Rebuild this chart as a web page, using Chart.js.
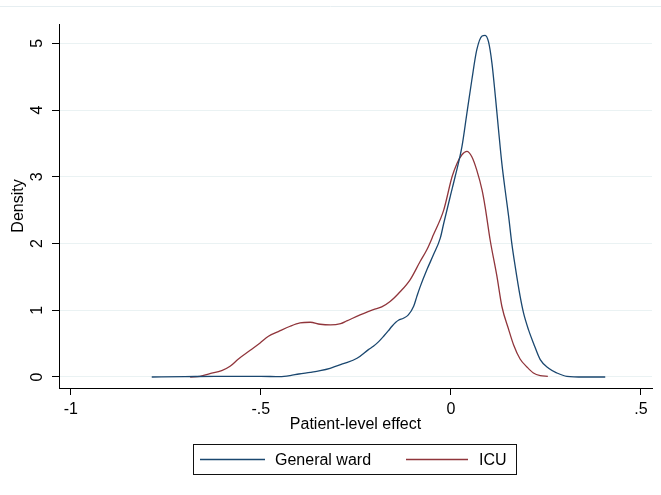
<!DOCTYPE html>
<html>
<head>
<meta charset="utf-8">
<script src="https://cdn.jsdelivr.net/npm/chart.js@4/dist/chart.umd.min.js"></script>
<style>
  body { margin: 0; background: #fff; }
  canvas { display: block; }
</style>
</head>
<body>
<canvas id="densityChart" width="661" height="495"></canvas>
<script>
// kernel density estimates, read at x = patient-level effect
const wardX = [-0.787, -0.70, -0.62, -0.55, -0.50, -0.45, -0.423, -0.40, -0.37, -0.344, -0.318, -0.283, -0.247, -0.217, -0.204, -0.19, -0.177, -0.165, -0.155, -0.145, -0.138, -0.125, -0.112, -0.098, -0.09, -0.081, -0.063, -0.046, -0.028, -0.019, -0.002, 0.011, 0.029, 0.042, 0.055, 0.068, 0.082, 0.09, 0.099, 0.108, 0.117, 0.125, 0.134, 0.145, 0.152, 0.160, 0.169, 0.182, 0.191, 0.204, 0.217, 0.235, 0.257, 0.279, 0.305, 0.35, 0.406];
const wardDensity = [0, 0.005, 0.01, 0.01, 0.01, 0.005, 0.02, 0.045, 0.07, 0.095, 0.13, 0.20, 0.28, 0.41, 0.46, 0.53, 0.61, 0.69, 0.76, 0.82, 0.85, 0.88, 0.93, 1.06, 1.20, 1.35, 1.61, 1.83, 2.08, 2.30, 2.70, 3.00, 3.45, 3.95, 4.45, 4.90, 5.11, 5.12, 5.02, 4.70, 4.20, 3.72, 3.20, 2.70, 2.40, 2.01, 1.66, 1.21, 0.96, 0.71, 0.51, 0.26, 0.13, 0.06, 0.01, 0, 0];

const icuX = [-0.686, -0.66, -0.634, -0.603, -0.581, -0.559, -0.528, -0.502, -0.48, -0.454, -0.423, -0.397, -0.37, -0.344, -0.317, -0.29, -0.274, -0.239, -0.204, -0.182, -0.16, -0.133, -0.107, -0.081, -0.063, -0.046, -0.019, 0.003, 0.016, 0.029, 0.042, 0.055, 0.068, 0.082, 0.09, 0.103, 0.121, 0.134, 0.152, 0.165, 0.182, 0.2, 0.217, 0.235, 0.255];
const icuDensity = [0, 0.01, 0.05, 0.095, 0.16, 0.27, 0.40, 0.51, 0.61, 0.68, 0.76, 0.81, 0.82, 0.79, 0.78, 0.80, 0.84, 0.93, 1.01, 1.05, 1.13, 1.28, 1.46, 1.73, 1.91, 2.13, 2.50, 3.00, 3.20, 3.33, 3.38, 3.30, 3.10, 2.80, 2.55, 2.06, 1.51, 1.06, 0.71, 0.48, 0.27, 0.15, 0.06, 0.02, 0.01];

const xTicks = [-1, -0.5, 0, 0.5];
const yTicks = [0, 1, 2, 3, 4, 5];
const seriesNames = ['General ward', 'ICU'];
const seriesColors = ['#1a476f', '#90353b'];

const toPoints = (xs, ys) => xs.map((x, i) => ({ x: x, y: ys[i] }));

// stata style number labels: -.5 / .5
const fmt = v => {
  if (v === 0) return '0';
  let s = String(v);
  return s.replace(/^(-?)0\./, '$1.');
};

Chart.defaults.font.family = "'Liberation Sans', Arial, sans-serif";
Chart.defaults.font.size = 16;
Chart.defaults.color = '#000';

// legend box under the plot, drawn straight on the canvas
const boxLegend = {
  id: 'boxLegend',
  beforeDraw(chart) {
    const ctx = chart.ctx;
    ctx.save();
    ctx.strokeStyle = '#e6eef1';
    ctx.lineWidth = 1;
    ctx.beginPath();
    ctx.moveTo(0, 6.5);
    ctx.lineTo(chart.width, 6.5);
    ctx.stroke();
    ctx.restore();
  },
  afterDraw(chart) {
    const ctx = chart.ctx;
    const left = 193.5, top = 444.5, w = 323, h = 30;
    ctx.save();
    ctx.strokeStyle = '#111';
    ctx.lineWidth = 1;
    ctx.strokeRect(left, top, w, h);
    const cy = top + h / 2;
    const entries = [
      { x0: 200, x1: 265, tx: 275 },
      { x0: 406, x1: 468, tx: 479 }
    ];
    ctx.font = "16px 'Liberation Sans', Arial, sans-serif";
    ctx.textBaseline = 'middle';
    ctx.textAlign = 'left';
    chart.data.datasets.forEach((ds, i) => {
      const e = entries[i];
      ctx.strokeStyle = ds.borderColor;
      ctx.lineWidth = 1.3;
      ctx.beginPath();
      ctx.moveTo(e.x0, cy);
      ctx.lineTo(e.x1, cy);
      ctx.stroke();
      ctx.fillStyle = '#000';
      ctx.fillText(ds.label, e.tx, cy + 1);
    });
    ctx.restore();
  }
};

new Chart(document.getElementById('densityChart'), {
  type: 'line',
  data: {
    datasets: [
      {
        label: seriesNames[0],
        data: toPoints(wardX, wardDensity),
        borderColor: seriesColors[0],
        borderWidth: 1.3,
        pointRadius: 0,
        fill: false,
        cubicInterpolationMode: 'monotone'
      },
      {
        label: seriesNames[1],
        data: toPoints(icuX, icuDensity),
        borderColor: seriesColors[1],
        borderWidth: 1.3,
        pointRadius: 0,
        fill: false,
        cubicInterpolationMode: 'monotone'
      }
    ]
  },
  options: {
    responsive: false,
    animation: false,
    layout: { padding: { left: 0, top: 24, right: 9, bottom: 57 } },
    plugins: {
      legend: { display: false },
      tooltip: { enabled: false }
    },
    scales: {
      x: {
        type: 'linear',
        min: -1.031,
        max: 0.529,
        afterBuildTicks: scale => { scale.ticks = xTicks.map(v => ({ value: v })); },
        afterFit: scale => { scale.height = 50; },
        ticks: {
          callback: v => fmt(v),
          padding: 5,
          maxRotation: 0,
          minRotation: 0
        },
        grid: {
          drawOnChartArea: false,
          drawTicks: true,
          tickLength: 7,
          tickColor: '#000'
        },
        border: { display: true, color: '#000', width: 1 },
        title: {
          display: true,
          text: 'Patient-level effect',
          padding: { top: 0, bottom: 4 }
        }
      },
      y: {
        min: -0.165,
        max: 5.289,
        afterBuildTicks: scale => { scale.ticks = yTicks.map(v => ({ value: v })); },
        afterFit: scale => { scale.width = 59; },
        ticks: {
          callback: v => fmt(v),
          minRotation: 90,
          maxRotation: 90,
          crossAlign: 'center',
          padding: 10
        },
        grid: {
          color: '#eaf2f3',
          lineWidth: 1,
          drawTicks: true,
          tickLength: 7,
          tickColor: '#000'
        },
        border: { display: true, color: '#000', width: 1 },
        title: {
          display: true,
          text: 'Density',
          padding: { top: 9, bottom: 0 }
        }
      }
    }
  },
  plugins: [boxLegend]
});
</script>
</body>
</html>
